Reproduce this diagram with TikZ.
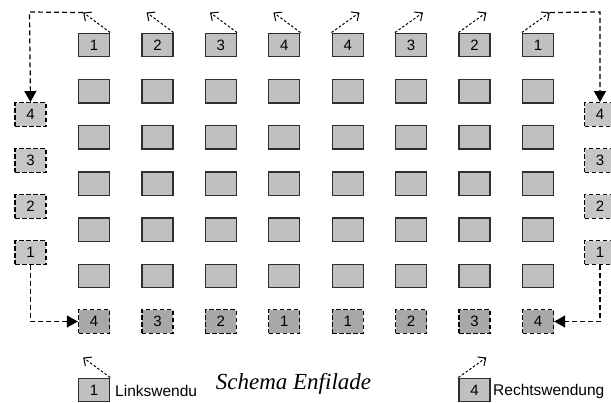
\documentclass[tikz,border=0pt]{standalone}
\usepackage{fontspec}
\setmainfont{Liberation Serif}
\newfontfamily\arial{Liberation Sans}
\usetikzlibrary{arrows.meta}
\definecolor{boxfill}{HTML}{C0C0C0}
\definecolor{darkfill}{HTML}{A8A8A8}
\definecolor{sidefill}{HTML}{C6C6C6}
\definecolor{boxline}{HTML}{2E2E2E}
\tikzset{
  cell/.style={draw=boxline, line width=1.4pt, fill=boxfill, minimum width=31pt, minimum height=23.5pt, inner sep=0pt, font=\arial\fontsize{15}{15}\selectfont},
  dcell/.style={cell, draw=black, fill=darkfill, dash pattern=on 4.5pt off 2.5pt},
  scell/.style={dcell, fill=sidefill},
  route/.style={line width=1.2pt, dash pattern=on 5pt off 3pt, -{Triangle[length=11pt,width=12pt]}},
  turn/.style={line width=1pt, dash pattern=on 2.5pt off 2pt, -{Straight Barb[length=6pt,width=11pt,line width=1pt]}},
  legend/.style={anchor=west, inner sep=0pt, font=\arial\fontsize{15.5}{15.5}\selectfont},
}
\begin{document}
\begin{tikzpicture}[x=1pt,y=-1pt]
\useasboundingbox[fill=white] (0,0) rectangle (611,403);
\begin{scope}
\clip (0,0) rectangle (611,403);
% top row
\foreach \i/\l in {1/1,2/2,3/3,4/4,5/4,6/3,7/2,8/1}{
  \node[cell] (t\i) at ({94+(\i-1)*63.43},45) {\l};
}
% grid rows 2..6
\foreach \r in {2,...,6}{
  \foreach \i in {1,...,8}{
    \node[cell] (g\r-\i) at ({94+(\i-1)*63.43},{45+(\r-1)*46.2}) {};
  }
}
% bottom row
\foreach \i/\l in {1/4,2/3,3/2,4/1,5/1,6/2,7/3,8/4}{
  \node[dcell] (b\i) at ({94+(\i-1)*63.43},321.5) {\l};
}
% side columns
\foreach \k/\l in {1/4,2/3,3/2,4/1}{
  \node[scell] (l\k) at (30.5,{114.5+(\k-1)*46}) {\l};
  \node[scell] (r\k) at (600,{114.5+(\k-1)*46}) {\l};
}
% turn icons on top row
\foreach \i in {1,2,3,4}{
  \draw[turn] (t\i.north east) -- ++(-27,-20) coordinate (it\i);
}
\foreach \i in {5,6,7,8}{
  \draw[turn] (t\i.north west) -- ++(28,-20) coordinate (it\i);
}
% routes
\coordinate (c1) at (29.5,12);
\coordinate (c2) at (600,12);
\draw[route] (it1) -- (c1) -- (l1.north);
\draw[route] (it8) -- (c2) -- (r1.north);
\draw[route] (l4.south) |- (b1.west);
\draw[route] (r4.south) |- (b8.east);
% legend
\node[cell] (lg1) at (94,390) {1};
\node[cell] (lg2) at (474.5,390) {4};
\draw[turn] (lg1.north east) -- ++(-27,-20) coordinate (ilg1);
\draw[turn] (lg2.north west) -- ++(28,-20) coordinate (ilg2);
\node[legend] (lt1) at (115,391) {Linkswendu};
\node[legend] (lt2) at (493,391) {Rechtswendung};
\node[font=\itshape\fontsize{23}{23}\selectfont, inner sep=0pt] (title) at (293.5,384) {Schema Enfilade};
\end{scope}
\end{tikzpicture}
\end{document}
